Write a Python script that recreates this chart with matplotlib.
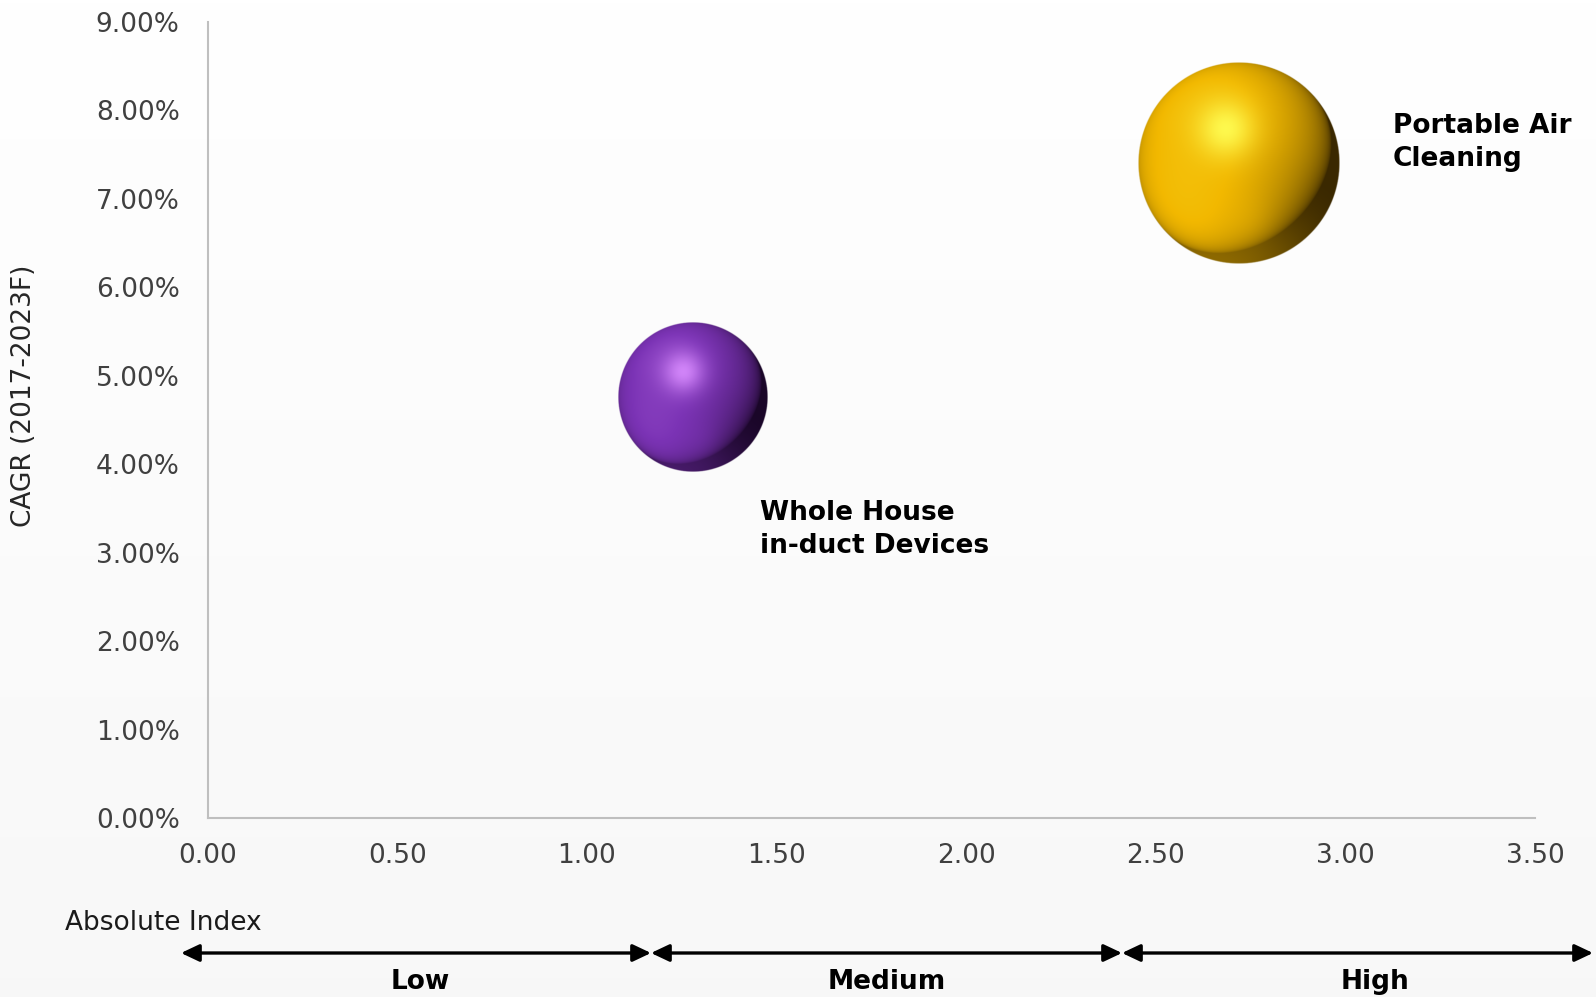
import numpy as np
import matplotlib
matplotlib.use("Agg")
import matplotlib.pyplot as plt
from matplotlib.patches import FancyArrowPatch
from matplotlib.ticker import FuncFormatter

# ---------------- data ----------------
categories = ["Whole House\nin-duct Devices", "Portable Air\nCleaning"]
absolute_index = [1.28, 2.72]
cagr_pct = [4.76, 7.41]
bubble_size = [55, 100]
base_colors = ["#7b33b5", "#f2b800"]
light_colors = ["#d98cff", "#ffff55"]
dark_colors = ["#1a0628", "#3a2800"]

x_ticks = [0.0, 0.5, 1.0, 1.5, 2.0, 2.5, 3.0, 3.5]
y_ticks = [0, 1, 2, 3, 4, 5, 6, 7, 8, 9]
band_labels = ["Low", "Medium", "High"]

DPI = 100
W, H = 1596, 997
SIZE_SCALE = 211.5  # points^2 per size unit

fig = plt.figure(figsize=(W / DPI, H / DPI), dpi=DPI)
fig.patch.set_facecolor("white")

# background gradient
bg = fig.add_axes([0, 0, 1, 1], zorder=-10)
grad = np.linspace(0, 1, 256)[:, None]
top = np.array([1.0, 1.0, 1.0])
bot = np.array([0.972, 0.972, 0.972])
gimg = top[None, None, :] * (1 - grad[..., None]) + bot[None, None, :] * grad[..., None]
gimg = np.repeat(gimg, 4, axis=1)
bg.imshow(gimg, aspect="auto", extent=(0, 1, 0, 1), origin="upper")
bg.set_axis_off()

AX_L, AX_R, AX_T, AX_B = 207.5, 1535, 22, 818
ax = fig.add_axes([AX_L / W, 1 - AX_B / H, (AX_R - AX_L) / W, (AX_B - AX_T) / H])
ax.set_facecolor("none")
ax.set_xlim(0, 3.5)
ax.set_ylim(0, 9)
ax.set_xticks(x_ticks)
ax.set_yticks(y_ticks)
ax.xaxis.set_major_formatter(FuncFormatter(lambda v, p: f"{v:.2f}"))
ax.yaxis.set_major_formatter(FuncFormatter(lambda v, p: f"{v:.2f}%"))
ax.tick_params(axis="both", length=0, labelsize=19, labelcolor="#404040")
ax.tick_params(axis="x", pad=18)
ax.tick_params(axis="y", pad=20)
for s in ["top", "right"]:
    ax.spines[s].set_visible(False)
for s in ["left", "bottom"]:
    ax.spines[s].set_color("#bfbfbf")
    ax.spines[s].set_linewidth(1.5)

ax.set_ylabel("CAGR (2017-2023F)", fontsize=19, color="#262626")
ax.yaxis.set_label_coords((37 - AX_L) / (AX_R - AX_L), (AX_B - 396) / (AX_B - AX_T))

sizes = [s * SIZE_SCALE for s in bubble_size]
ax.scatter(absolute_index, cagr_pct, s=[v * 0.97 for v in sizes], c=base_colors,
           edgecolors="none", zorder=2)


def hex2rgb(h):
    h = h.lstrip("#")
    return np.array([int(h[i:i + 2], 16) / 255 for i in (0, 2, 4)])


def sphere(base, light, dark, n=420):
    base, light, dark = hex2rgb(base), hex2rgb(light), hex2rgb(dark)
    lin = np.linspace(-1, 1, n)
    u, v = np.meshgrid(lin, -lin)
    r2 = u ** 2 + v ** 2
    z = np.sqrt(np.clip(1 - r2, 0, 1))
    L = np.array([-0.4, 0.45, 0.8])
    L = L / np.linalg.norm(L)
    diff = np.clip(u * L[0] + v * L[1] + z * L[2], 0, 1)
    L2 = np.array([-0.25, -0.9, 0.2])
    L2 = L2 / np.linalg.norm(L2)
    rim = np.clip(u * L2[0] + v * L2[1] + z * L2[2], 0, 1) ** 2
    s = np.clip(diff ** 0.55 * 1.08 + 0.45 * rim, 0, 1.15)
    col = dark[None, None, :] + (base - dark)[None, None, :] * np.clip(s, 0, 1)[..., None]
    over = np.clip(s - 1, 0, 1)[..., None]
    col = col + (light - base)[None, None, :] * over * 1.5
    spec = 0.9 * np.exp(-((u + 0.13) ** 2 + (v - 0.34) ** 2) / (2 * 0.2 ** 2))
    col = col * (1 - spec[..., None]) + light[None, None, :] * spec[..., None]
    refl = 0.2 * np.exp(-((u - 0.08) ** 2 + (v + 0.55) ** 2) / (2 * 0.16 ** 2))
    col = col * (1 - refl[..., None]) + base[None, None, :] * refl[..., None]
    col = np.clip(col, 0, 1)
    alpha = np.clip((1 - np.sqrt(r2)) * n / 2.5, 0, 1)
    return np.dstack([col, alpha])


for xv, yv, sz, bc, lc, dc in zip(absolute_index, cagr_pct, sizes, base_colors, light_colors, dark_colors):
    r_px = np.sqrt(sz) / 2 * DPI / 72
    cx, cy = ax.transData.transform((xv, yv))
    inv = ax.transData.inverted()
    x0, y0 = inv.transform((cx - r_px, cy - r_px))
    x1, y1 = inv.transform((cx + r_px, cy + r_px))
    ax.imshow(sphere(bc, lc, dc), extent=(x0, x1, y0, y1), origin="upper",
              interpolation="bilinear", zorder=3)

ax.set_aspect("auto")
ax.set_xlim(0, 3.5)
ax.set_ylim(0, 9)

label_offsets = [(48, -95.5), (110.5, 14.5)]
for xv, yv, lab, off in zip(absolute_index, cagr_pct, categories, label_offsets):
    ax.annotate(lab, (xv, yv), xytext=off, textcoords="offset points",
                ha="left", va="center", fontsize=19, fontweight="bold",
                color="black", linespacing=1.32, zorder=4)

# bottom index scale
fig.text(65 / W, 1 - 930 / H, "Absolute Index", fontsize=19, color="#1a1a1a",
         ha="left", va="baseline")

y_arrow = 1 - 953 / H
bounds = [181, 651, 1122, 1593]
for i in range(3):
    arr = FancyArrowPatch((bounds[i] / W, y_arrow), (bounds[i + 1] / W, y_arrow),
                          transform=fig.transFigure,
                          arrowstyle="<|-|>,head_length=0.55,head_width=0.26",
                          mutation_scale=20, lw=2.4, color="black",
                          shrinkA=0, shrinkB=0)
    fig.add_artist(arr)

band_x = [420, 887, 1375]
for lab, bx in zip(band_labels, band_x):
    fig.text(bx / W, 1 - 989 / H, lab, fontsize=19, fontweight="bold",
             color="black", ha="center", va="baseline")

fig.savefig("out.png", dpi=DPI)
